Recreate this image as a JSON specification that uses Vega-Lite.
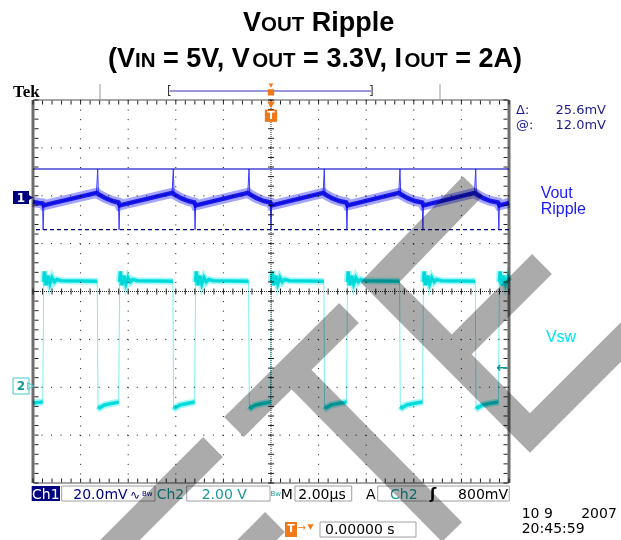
{
"$schema": "https://vega.github.io/schema/vega-lite/v6.json",
"width": 476, "height": 383, "autosize": "none",
"padding": {"left": 33, "top": 100, "right": 112, "bottom": 57},
"background": "white",
"config": {"view": {"stroke": null}, "axis": {"disable": true}},
"data": {"values": [{}]},
"datasets": {
"wm": [{"w":1,"o":1,"t":8.487,"v":2.204},{"w":1,"o":2,"t":4.58,"v":0.198},{"w":1,"o":3,"t":10.882,"v":-2.956},{"w":1,"o":4,"t":16.345,"v":-0.24},
{"w":2,"o":1,"t":11.387,"v":0.574},{"w":2,"o":2,"t":7.605,"v":-1.305},
{"w":3,"o":1,"t":3.277,"v":-0.449},{"w":3,"o":2,"t":-1.555,"v":-2.83},
{"w":4,"o":1,"t":0.882,"v":-1.64},{"w":4,"o":2,"t":7.605,"v":-5.023},
{"w":5,"o":1,"t":-2.437,"v":-3.248},{"w":5,"o":2,"t":-6.975,"v":-5.504},
{"w":6,"o":1,"t":0.168,"v":-4.815},{"w":6,"o":2,"t":-1.303,"v":-5.546}],
"gx": [{"t":-8},{"t":-6},{"t":-4},{"t":-2},{"t":2},{"t":4},{"t":6},{"t":8}],
"gy": [{"v":-3},{"v":-2},{"v":-1},{"v":1},{"v":2},{"v":3}],
"mx": [{"t":-10},{"t":-9.6},{"t":-9.2},{"t":-8.8},{"t":-8.4},{"t":-8},{"t":-7.6},{"t":-7.2},{"t":-6.8},{"t":-6.4},{"t":-6},{"t":-5.6},{"t":-5.2},{"t":-4.8},{"t":-4.4},{"t":-4},{"t":-3.6},{"t":-3.2},{"t":-2.8},{"t":-2.4},{"t":-2},{"t":-1.6},{"t":-1.2},{"t":-0.8},{"t":-0.4},{"t":0},{"t":0.4},{"t":0.8},{"t":1.2},{"t":1.6},{"t":2},{"t":2.4},{"t":2.8},{"t":3.2},{"t":3.6},{"t":4},{"t":4.4},{"t":4.8},{"t":5.2},{"t":5.6},{"t":6},{"t":6.4},{"t":6.8},{"t":7.2},{"t":7.6},{"t":8},{"t":8.4},{"t":8.8},{"t":9.2},{"t":9.6},{"t":10}],
"my": [{"v":-4},{"v":-3.8},{"v":-3.6},{"v":-3.4},{"v":-3.2},{"v":-3},{"v":-2.8},{"v":-2.6},{"v":-2.4},{"v":-2.2},{"v":-2},{"v":-1.8},{"v":-1.6},{"v":-1.4},{"v":-1.2},{"v":-1},{"v":-0.8},{"v":-0.6},{"v":-0.4},{"v":-0.2},{"v":0},{"v":0.2},{"v":0.4},{"v":0.6},{"v":0.8},{"v":1},{"v":1.2},{"v":1.4},{"v":1.6},{"v":1.8},{"v":2},{"v":2.2},{"v":2.4},{"v":2.6},{"v":2.8},{"v":3},{"v":3.2},{"v":3.4},{"v":3.6},{"v":3.8},{"v":4}],
"ch1": [{"t":-10,"v":1.87,"k":"b"},{"t":-9.75,"v":1.85,"k":"b"},{"t":-9.6,"v":1.84,"k":"b"},{"t":-9.573,"v":1.29,"k":"s"},{"t":-9.545,"v":1.8,"k":"b"},{"t":-9.3,"v":1.83,"k":"b"},{"t":-7.332,"v":2.06,"k":"b"},{"t":-7.282,"v":2.56,"k":"s"},{"t":-7.25,"v":2.03,"k":"b"},{"t":-6.95,"v":1.95,"k":"b"},{"t":-6.65,"v":1.89,"k":"b"},{"t":-6.41,"v":1.86,"k":"b"},{"t":-6.382,"v":1.29,"k":"s"},{"t":-6.355,"v":1.8,"k":"b"},{"t":-6.1,"v":1.83,"k":"b"},{"t":-4.155,"v":2.06,"k":"b"},{"t":-4.105,"v":2.56,"k":"s"},{"t":-4.07,"v":2.03,"k":"b"},{"t":-3.78,"v":1.95,"k":"b"},{"t":-3.47,"v":1.89,"k":"b"},{"t":-3.22,"v":1.86,"k":"b"},{"t":-3.191,"v":1.29,"k":"s"},{"t":-3.165,"v":1.8,"k":"b"},{"t":-2.9,"v":1.83,"k":"b"},{"t":-0.974,"v":2.06,"k":"b"},{"t":-0.924,"v":2.56,"k":"s"},{"t":-0.89,"v":2.03,"k":"b"},{"t":-0.6,"v":1.95,"k":"b"},{"t":-0.3,"v":1.89,"k":"b"},{"t":-0.03,"v":1.86,"k":"b"},{"t":0,"v":1.29,"k":"s"},{"t":0.027,"v":1.8,"k":"b"},{"t":0.29,"v":1.83,"k":"b"},{"t":2.189,"v":2.06,"k":"b"},{"t":2.239,"v":2.56,"k":"s"},{"t":2.27,"v":2.03,"k":"b"},{"t":2.56,"v":1.95,"k":"b"},{"t":2.87,"v":1.89,"k":"b"},{"t":3.16,"v":1.86,"k":"b"},{"t":3.191,"v":1.29,"k":"s"},{"t":3.218,"v":1.8,"k":"b"},{"t":3.48,"v":1.83,"k":"b"},{"t":5.37,"v":2.06,"k":"b"},{"t":5.42,"v":2.56,"k":"s"},{"t":5.45,"v":2.03,"k":"b"},{"t":5.74,"v":1.95,"k":"b"},{"t":6.05,"v":1.89,"k":"b"},{"t":6.35,"v":1.86,"k":"b"},{"t":6.382,"v":1.29,"k":"s"},{"t":6.41,"v":1.8,"k":"b"},{"t":6.67,"v":1.83,"k":"b"},{"t":8.551,"v":2.06,"k":"b"},{"t":8.601,"v":2.56,"k":"s"},{"t":8.63,"v":2.03,"k":"b"},{"t":8.92,"v":1.95,"k":"b"},{"t":9.23,"v":1.89,"k":"b"},{"t":9.54,"v":1.86,"k":"b"},{"t":9.573,"v":1.29,"k":"s"},{"t":9.6,"v":1.8,"k":"b"},{"t":9.85,"v":1.83,"k":"b"},{"t":10,"v":1.85,"k":"b"}],
"ch2": [{"t":-10,"v":-2.33,"s":"L0"},{"t":-9.59,"v":-2.31,"s":"L0"},
{"t":-9.55,"v":0.2,"s":"H0"},{"t":-9.52,"v":0.42,"s":"H0"},{"t":-9.45,"v":0.13,"s":"H0"},{"t":-9.37,"v":0.33,"s":"H0"},{"t":-9.29,"v":0.16,"s":"H0"},{"t":-9.2,"v":0.29,"s":"H0"},{"t":-9.1,"v":0.2,"s":"H0"},{"t":-9.0,"v":0.25,"s":"H0"},{"t":-8.8,"v":0.225,"s":"H0"},{"t":-7.3,"v":0.215,"s":"H0"},
{"t":-7.27,"v":-2.4,"s":"L1"},{"t":-7.2,"v":-2.43,"s":"L1"},{"t":-7.0,"v":-2.37,"s":"L1"},{"t":-6.7,"v":-2.34,"s":"L1"},{"t":-6.4,"v":-2.31,"s":"L1"},
{"t":-6.359,"v":0.2,"s":"H1"},{"t":-6.329,"v":0.42,"s":"H1"},{"t":-6.259,"v":0.13,"s":"H1"},{"t":-6.179,"v":0.33,"s":"H1"},{"t":-6.099,"v":0.16,"s":"H1"},{"t":-6.009,"v":0.29,"s":"H1"},{"t":-5.909,"v":0.2,"s":"H1"},{"t":-5.809,"v":0.25,"s":"H1"},{"t":-5.609,"v":0.225,"s":"H1"},{"t":-4.123,"v":0.215,"s":"H1"},
{"t":-4.093,"v":-2.4,"s":"L2"},{"t":-4.023,"v":-2.43,"s":"L2"},{"t":-3.825,"v":-2.37,"s":"L2"},{"t":-3.525,"v":-2.34,"s":"L2"},{"t":-3.209,"v":-2.31,"s":"L2"},
{"t":-3.168,"v":0.2,"s":"H2"},{"t":-3.138,"v":0.42,"s":"H2"},{"t":-3.068,"v":0.13,"s":"H2"},{"t":-2.988,"v":0.33,"s":"H2"},{"t":-2.908,"v":0.16,"s":"H2"},{"t":-2.818,"v":0.29,"s":"H2"},{"t":-2.718,"v":0.2,"s":"H2"},{"t":-2.618,"v":0.25,"s":"H2"},{"t":-2.418,"v":0.225,"s":"H2"},{"t":-0.942,"v":0.215,"s":"H2"},
{"t":-0.912,"v":-2.4,"s":"L3"},{"t":-0.842,"v":-2.43,"s":"L3"},{"t":-0.644,"v":-2.37,"s":"L3"},{"t":-0.344,"v":-2.34,"s":"L3"},{"t":-0.018,"v":-2.31,"s":"L3"},
{"t":0.023,"v":0.2,"s":"H3"},{"t":0.053,"v":0.42,"s":"H3"},{"t":0.123,"v":0.13,"s":"H3"},{"t":0.203,"v":0.33,"s":"H3"},{"t":0.283,"v":0.16,"s":"H3"},{"t":0.373,"v":0.29,"s":"H3"},{"t":0.473,"v":0.2,"s":"H3"},{"t":0.573,"v":0.25,"s":"H3"},{"t":0.773,"v":0.225,"s":"H3"},{"t":2.221,"v":0.215,"s":"H3"},
{"t":2.251,"v":-2.4,"s":"L4"},{"t":2.321,"v":-2.43,"s":"L4"},{"t":2.519,"v":-2.37,"s":"L4"},{"t":2.819,"v":-2.34,"s":"L4"},{"t":3.173,"v":-2.31,"s":"L4"},
{"t":3.214,"v":0.2,"s":"H4"},{"t":3.244,"v":0.42,"s":"H4"},{"t":3.314,"v":0.13,"s":"H4"},{"t":3.394,"v":0.33,"s":"H4"},{"t":3.474,"v":0.16,"s":"H4"},{"t":3.564,"v":0.29,"s":"H4"},{"t":3.664,"v":0.2,"s":"H4"},{"t":3.764,"v":0.25,"s":"H4"},{"t":3.964,"v":0.225,"s":"H4"},{"t":5.402,"v":0.215,"s":"H4"},
{"t":5.432,"v":-2.4,"s":"L5"},{"t":5.502,"v":-2.43,"s":"L5"},{"t":5.7,"v":-2.37,"s":"L5"},{"t":6.0,"v":-2.34,"s":"L5"},{"t":6.364,"v":-2.31,"s":"L5"},
{"t":6.405,"v":0.2,"s":"H5"},{"t":6.435,"v":0.42,"s":"H5"},{"t":6.505,"v":0.13,"s":"H5"},{"t":6.585,"v":0.33,"s":"H5"},{"t":6.665,"v":0.16,"s":"H5"},{"t":6.755,"v":0.29,"s":"H5"},{"t":6.855,"v":0.2,"s":"H5"},{"t":6.955,"v":0.25,"s":"H5"},{"t":7.155,"v":0.225,"s":"H5"},{"t":8.583,"v":0.215,"s":"H5"},
{"t":8.613,"v":-2.4,"s":"L6"},{"t":8.683,"v":-2.43,"s":"L6"},{"t":8.881,"v":-2.37,"s":"L6"},{"t":9.181,"v":-2.34,"s":"L6"},{"t":9.555,"v":-2.31,"s":"L6"},
{"t":9.596,"v":0.2,"s":"H6"},{"t":9.626,"v":0.42,"s":"H6"},{"t":9.696,"v":0.13,"s":"H6"},{"t":9.776,"v":0.33,"s":"H6"},{"t":9.856,"v":0.16,"s":"H6"},{"t":9.946,"v":0.29,"s":"H6"},{"t":10,"v":0.22,"s":"H6"}]
},
"layer": [
{"data": {"name": "wm"}, "mark": {"type": "line", "color": "#ababab", "strokeWidth": 28, "strokeCap": "butt", "strokeJoin": "miter", "clip": false},
 "encoding": {"x": {"field": "t", "type": "quantitative", "scale": {"domain": [-10, 10], "nice": false, "zero": false}, "axis": null},
  "y": {"field": "v", "type": "quantitative", "scale": {"domain": [-4, 4], "nice": false, "zero": false}, "axis": null},
  "detail": {"field": "w"}, "order": {"field": "o"}}},
{"data": {"name": "gx"}, "mark": {"type": "rule", "color": "#111", "strokeWidth": 1, "strokeDash": [1, 8.575], "blend": "multiply"}, "encoding": {"x": {"field": "t", "type": "quantitative"}}},
{"data": {"name": "gy"}, "mark": {"type": "rule", "color": "#111", "strokeWidth": 1, "strokeDash": [1, 8.52], "blend": "multiply"}, "encoding": {"y": {"field": "v", "type": "quantitative"}}},
{"mark": {"type": "rule", "color": "#333", "strokeWidth": 1, "strokeDash": [1, 1], "blend": "multiply"}, "encoding": {"x": {"datum": 0}}},
{"mark": {"type": "rule", "color": "#333", "strokeWidth": 1, "strokeDash": [1, 1], "blend": "multiply"}, "encoding": {"y": {"datum": 0}}},
{"data": {"name": "mx"}, "mark": {"type": "tick", "orient": "vertical", "size": 6, "thickness": 1, "color": "#222", "opacity": 1, "blend": "multiply"}, "encoding": {"x": {"field": "t", "type": "quantitative"}, "y": {"datum": 0}}},
{"data": {"name": "my"}, "mark": {"type": "tick", "orient": "horizontal", "size": 6, "thickness": 1, "color": "#222", "opacity": 1, "blend": "multiply"}, "encoding": {"y": {"field": "v", "type": "quantitative"}, "x": {"datum": 0}}},
{"data": {"name": "mx"}, "mark": {"type": "tick", "orient": "vertical", "size": 4, "thickness": 1, "color": "#222", "opacity": 1, "blend": "multiply"}, "encoding": {"x": {"field": "t", "type": "quantitative"}, "y": {"datum": 3.95}}},
{"data": {"name": "mx"}, "mark": {"type": "tick", "orient": "vertical", "size": 4, "thickness": 1, "color": "#222", "opacity": 1, "blend": "multiply"}, "encoding": {"x": {"field": "t", "type": "quantitative"}, "y": {"datum": -3.95}}},
{"data": {"name": "my"}, "mark": {"type": "tick", "orient": "horizontal", "size": 4, "thickness": 1, "color": "#222", "opacity": 1, "blend": "multiply"}, "encoding": {"y": {"field": "v", "type": "quantitative"}, "x": {"datum": -9.853}}},
{"data": {"name": "my"}, "mark": {"type": "tick", "orient": "horizontal", "size": 4, "thickness": 1, "color": "#222", "opacity": 1, "blend": "multiply"}, "encoding": {"y": {"field": "v", "type": "quantitative"}, "x": {"datum": 9.853}}},
{"mark": {"type": "rule", "color": "#6e6e6e", "strokeWidth": 3, "blend": "multiply"}, "encoding": {"x": {"datum": -10}}},
{"mark": {"type": "rule", "color": "#6e6e6e", "strokeWidth": 3, "blend": "multiply"}, "encoding": {"x": {"datum": 10}}},
{"mark": {"type": "rule", "color": "#888", "strokeWidth": 1.5, "blend": "multiply"}, "encoding": {"y": {"datum": 4}}},
{"mark": {"type": "rule", "color": "#888", "strokeWidth": 1.5, "blend": "multiply"}, "encoding": {"y": {"datum": -4}}},
{"mark": {"type": "rule", "color": "#4646d2", "strokeWidth": 1.5, "blend": "multiply"}, "encoding": {"y": {"datum": 2.559}}},
{"mark": {"type": "rule", "color": "#000080", "strokeWidth": 1.2, "strokeDash": [4, 3], "blend": "multiply"}, "encoding": {"y": {"datum": 1.291}}},
{"data": {"name": "ch2"}, "mark": {"type": "line", "color": "#a6f7f7", "strokeWidth": 7, "blend": "multiply"}, "encoding": {"x": {"field": "t", "type": "quantitative"}, "y": {"field": "v", "type": "quantitative"}, "detail": {"field": "s"}}},
{"data": {"name": "ch2"}, "mark": {"type": "line", "color": "#00e8e8", "strokeWidth": 3.5, "blend": "multiply"}, "encoding": {"x": {"field": "t", "type": "quantitative"}, "y": {"field": "v", "type": "quantitative"}, "detail": {"field": "s"}}},
{"data": {"name": "ch2"}, "mark": {"type": "line", "color": "#7aefef", "strokeWidth": 1, "blend": "multiply"}, "encoding": {"x": {"field": "t", "type": "quantitative"}, "y": {"field": "v", "type": "quantitative"}}},
{"data": {"name": "ch1"}, "transform": [{"filter": "datum.k == 'b'"}], "mark": {"type": "line", "color": "#a4a4ff", "strokeWidth": 10, "blend": "multiply"}, "encoding": {"x": {"field": "t", "type": "quantitative"}, "y": {"field": "v", "type": "quantitative"}}},
{"data": {"name": "ch1"}, "transform": [{"filter": "datum.k == 'b'"}], "mark": {"type": "line", "color": "#2828e6", "strokeWidth": 4.5, "blend": "multiply"}, "encoding": {"x": {"field": "t", "type": "quantitative"}, "y": {"field": "v", "type": "quantitative"}}},
{"data": {"name": "ch1"}, "mark": {"type": "line", "color": "#3a3aff", "strokeWidth": 1, "blend": "multiply"}, "encoding": {"x": {"field": "t", "type": "quantitative"}, "y": {"field": "v", "type": "quantitative"}}},

{"mark": {"type": "rule", "color": "#999", "strokeWidth": 1, "clip": false}, "encoding": {"x": {"datum": -7.185}, "y": {"datum": 4.334}, "y2": {"datum": 4.0}}},
{"mark": {"type": "rule", "color": "#999", "strokeWidth": 1, "clip": false}, "encoding": {"x": {"datum": 7.101}, "y": {"datum": 4.334}, "y2": {"datum": 4.0}}},
{"mark": {"type": "rule", "color": "#7474cc", "strokeWidth": 1.5, "clip": false}, "encoding": {"x": {"datum": -4.25}, "x2": {"datum": 4.2}, "y": {"datum": 4.188}}},
{"mark": {"type": "text", "text": "[", "font": "DejaVu Sans", "fontSize": 12, "align": "center", "baseline": "middle", "color": "#333", "clip": false}, "encoding": {"x": {"datum": -4.27}, "y": {"datum": 4.188}}},
{"mark": {"type": "text", "text": "]", "font": "DejaVu Sans", "fontSize": 12, "align": "center", "baseline": "middle", "color": "#333", "clip": false}, "encoding": {"x": {"datum": 4.22}, "y": {"datum": 4.188}}},
{"mark": {"type": "point", "shape": "triangle-down", "filled": true, "size": 22, "color": "#f07818", "opacity": 1, "clip": false}, "encoding": {"x": {"datum": 0}, "y": {"datum": 4.3}}},
{"mark": {"type": "point", "shape": "square", "filled": true, "size": 40, "color": "#f07818", "opacity": 1, "clip": false}, "encoding": {"x": {"datum": 0}, "y": {"datum": 4.16}}},
{"mark": {"type": "point", "shape": "triangle-down", "filled": true, "size": 60, "color": "#f07818", "opacity": 1, "clip": false}, "encoding": {"x": {"datum": 0}, "y": {"datum": 3.9}}},
{"mark": {"type": "point", "shape": "square", "filled": true, "size": 150, "color": "#f07818", "opacity": 1, "clip": false}, "encoding": {"x": {"datum": 0}, "y": {"datum": 3.67}}},
{"mark": {"type": "text", "text": "T", "font": "DejaVu Sans", "fontSize": 11, "fontWeight": "bold", "align": "center", "baseline": "middle", "color": "white", "clip": false}, "encoding": {"x": {"datum": 0}, "y": {"datum": 3.67}}},

{"mark": {"type": "rect", "color": "#000080", "clip": false}, "encoding": {"x": {"datum": -10.84}, "x2": {"datum": -10.168}, "y": {"datum": 2.099}, "y2": {"datum": 1.828}}},
{"mark": {"type": "point", "shape": "triangle-right", "filled": true, "size": 45, "color": "#000080", "opacity": 1, "clip": false}, "encoding": {"x": {"datum": -10.11}, "y": {"datum": 1.963}}},
{"mark": {"type": "text", "text": "1", "font": "DejaVu Sans", "fontSize": 12, "fontWeight": "bold", "align": "center", "baseline": "middle", "color": "white", "clip": false}, "encoding": {"x": {"datum": -10.504}, "y": {"datum": 1.963}}},
{"mark": {"type": "rect", "filled": false, "stroke": "#40c8c8", "strokeWidth": 1, "clip": false}, "encoding": {"x": {"datum": -10.84}, "x2": {"datum": -10.168}, "y": {"datum": -1.807}, "y2": {"datum": -2.141}}},
{"mark": {"type": "point", "shape": "triangle-right", "filled": false, "size": 45, "stroke": "#40c8c8", "strokeWidth": 1, "opacity": 1, "clip": false}, "encoding": {"x": {"datum": -10.1}, "y": {"datum": -1.974}}},
{"mark": {"type": "text", "text": "2", "font": "DejaVu Sans", "fontSize": 12, "fontWeight": "bold", "align": "center", "baseline": "middle", "color": "#109898", "clip": false}, "encoding": {"x": {"datum": -10.504}, "y": {"datum": -1.974}}},
{"mark": {"type": "text", "text": "←", "font": "DejaVu Sans", "fontSize": 14, "fontWeight": "bold", "align": "center", "baseline": "middle", "color": "#109898", "clip": false}, "encoding": {"x": {"datum": 9.706}, "y": {"datum": -1.592}}},

{"mark": {"type": "text", "text": "Tek", "font": "Liberation Serif", "fontSize": 17, "fontWeight": "bold", "align": "left", "baseline": "alphabetic", "color": "#000", "clip": false}, "encoding": {"x": {"datum": -10.84}, "y": {"datum": 4.063}}},
{"mark": {"type": "text", "text": "V", "font": "Liberation Sans", "fontSize": 27, "fontWeight": "bold", "align": "left", "baseline": "alphabetic", "color": "#000", "clip": false}, "encoding": {"x": {"datum": -1.176}, "y": {"datum": 5.447}}},
{"mark": {"type": "text", "text": "OUT", "font": "Liberation Sans", "fontSize": 20.5, "fontWeight": "bold", "align": "left", "baseline": "alphabetic", "color": "#000", "clip": false}, "encoding": {"x": {"datum": -0.42}, "y": {"datum": 5.447}}},
{"mark": {"type": "text", "text": "Ripple", "font": "Liberation Sans", "fontSize": 27, "fontWeight": "bold", "align": "left", "baseline": "alphabetic", "color": "#000", "clip": false}, "encoding": {"x": {"datum": 1.714}, "y": {"datum": 5.447}}},
{"mark": {"type": "text", "text": "(V", "font": "Liberation Sans", "fontSize": 27, "fontWeight": "bold", "align": "left", "baseline": "alphabetic", "color": "#000", "clip": false}, "encoding": {"x": {"datum": -6.849}, "y": {"datum": 4.696}}},
{"mark": {"type": "text", "text": "IN", "font": "Liberation Sans", "fontSize": 20.5, "fontWeight": "bold", "align": "left", "baseline": "alphabetic", "color": "#000", "clip": false}, "encoding": {"x": {"datum": -5.714}, "y": {"datum": 4.696}}},
{"mark": {"type": "text", "text": "= 5V, V", "font": "Liberation Sans", "fontSize": 27, "fontWeight": "bold", "align": "left", "baseline": "alphabetic", "color": "#000", "clip": false}, "encoding": {"x": {"datum": -4.538}, "y": {"datum": 4.696}}},
{"mark": {"type": "text", "text": "OUT", "font": "Liberation Sans", "fontSize": 20.5, "fontWeight": "bold", "align": "left", "baseline": "alphabetic", "color": "#000", "clip": false}, "encoding": {"x": {"datum": -0.786}, "y": {"datum": 4.696}}},
{"mark": {"type": "text", "text": "= 3.3V, I", "font": "Liberation Sans", "fontSize": 27, "fontWeight": "bold", "align": "left", "baseline": "alphabetic", "color": "#000", "clip": false}, "encoding": {"x": {"datum": 1.349}, "y": {"datum": 4.696}}},
{"mark": {"type": "text", "text": "OUT", "font": "Liberation Sans", "fontSize": 20.5, "fontWeight": "bold", "align": "left", "baseline": "alphabetic", "color": "#000", "clip": false}, "encoding": {"x": {"datum": 5.605}, "y": {"datum": 4.696}}},
{"mark": {"type": "text", "text": "= 2A)", "font": "Liberation Sans", "fontSize": 27, "fontWeight": "bold", "align": "left", "baseline": "alphabetic", "color": "#000", "clip": false}, "encoding": {"x": {"datum": 7.739}, "y": {"datum": 4.696}}},

{"mark": {"type": "text", "text": "Δ:", "font": "DejaVu Sans", "fontSize": 13, "align": "left", "baseline": "alphabetic", "color": "#1c1c8c", "clip": false}, "encoding": {"x": {"datum": 10.294}, "y": {"datum": 3.71}}},
{"mark": {"type": "text", "text": "25.6mV", "font": "DejaVu Sans", "fontSize": 13, "align": "right", "baseline": "alphabetic", "color": "#1c1c8c", "clip": false}, "encoding": {"x": {"datum": 14.076}, "y": {"datum": 3.71}}},
{"mark": {"type": "text", "text": "@:", "font": "DejaVu Sans", "fontSize": 13, "align": "left", "baseline": "alphabetic", "color": "#1c1c8c", "clip": false}, "encoding": {"x": {"datum": 10.294}, "y": {"datum": 3.39}}},
{"mark": {"type": "text", "text": "12.0mV", "font": "DejaVu Sans", "fontSize": 13, "align": "right", "baseline": "alphabetic", "color": "#1c1c8c", "clip": false}, "encoding": {"x": {"datum": 14.076}, "y": {"datum": 3.39}}},
{"mark": {"type": "text", "text": "Vout", "font": "Liberation Sans", "fontSize": 16, "align": "left", "baseline": "alphabetic", "color": "#1a1aff", "clip": false}, "encoding": {"x": {"datum": 11.33}, "y": {"datum": 1.95}}},
{"mark": {"type": "text", "text": "Ripple", "font": "Liberation Sans", "fontSize": 16, "align": "left", "baseline": "alphabetic", "color": "#1a1aff", "clip": false}, "encoding": {"x": {"datum": 11.33}, "y": {"datum": 1.619}}},
{"mark": {"type": "text", "text": "Vsw", "font": "Liberation Sans", "fontSize": 16, "align": "left", "baseline": "alphabetic", "color": "#00e4f0", "clip": false}, "encoding": {"x": {"datum": 11.55}, "y": {"datum": -1.049}}},

{"mark": {"type": "rect", "color": "#000080", "clip": false}, "encoding": {"x": {"datum": -10.055}, "x2": {"datum": -8.866}, "y": {"datum": -4.063}, "y2": {"datum": -4.376}}},
{"mark": {"type": "text", "text": "Ch1", "font": "DejaVu Sans", "fontSize": 14, "align": "center", "baseline": "alphabetic", "color": "white", "clip": false}, "encoding": {"x": {"datum": -9.46}, "y": {"datum": -4.334}}},
{"mark": {"type": "rect", "filled": false, "stroke": "#a0a0a0", "strokeWidth": 1, "clip": false, "blend": "multiply"}, "encoding": {"x": {"datum": -8.794}, "x2": {"datum": -4.874}, "y": {"datum": -4.063}, "y2": {"datum": -4.376}}},
{"mark": {"type": "text", "text": "20.0mV", "font": "DejaVu Sans", "fontSize": 14, "align": "left", "baseline": "alphabetic", "color": "#000080", "clip": false, "blend": "multiply"}, "encoding": {"x": {"datum": -8.307}, "y": {"datum": -4.334}}},
{"mark": {"type": "text", "text": "∿", "font": "DejaVu Sans", "fontSize": 12, "align": "left", "baseline": "alphabetic", "color": "#000080", "clip": false, "blend": "multiply"}, "encoding": {"x": {"datum": -5.924}, "y": {"datum": -4.334}}},
{"mark": {"type": "text", "text": "Bw", "font": "DejaVu Sans", "fontSize": 7, "align": "left", "baseline": "alphabetic", "color": "#000080", "clip": false, "blend": "multiply"}, "encoding": {"x": {"datum": -5.42}, "y": {"datum": -4.27}}},
{"mark": {"type": "text", "text": "Ch2", "font": "DejaVu Sans", "fontSize": 14, "align": "left", "baseline": "alphabetic", "color": "#189898", "clip": false, "blend": "multiply"}, "encoding": {"x": {"datum": -4.803}, "y": {"datum": -4.334}}},
{"mark": {"type": "rect", "filled": false, "stroke": "#a0a0a0", "strokeWidth": 1, "clip": false, "blend": "multiply"}, "encoding": {"x": {"datum": -3.542}, "x2": {"datum": -0.042}, "y": {"datum": -4.063}, "y2": {"datum": -4.376}}},
{"mark": {"type": "text", "text": "2.00 V", "font": "DejaVu Sans", "fontSize": 14, "align": "left", "baseline": "alphabetic", "color": "#189898", "clip": false, "blend": "multiply"}, "encoding": {"x": {"datum": -2.912}, "y": {"datum": -4.334}}},
{"mark": {"type": "text", "text": "Bw", "font": "DejaVu Sans", "fontSize": 7, "align": "left", "baseline": "alphabetic", "color": "#189898", "clip": false, "blend": "multiply"}, "encoding": {"x": {"datum": -0.02}, "y": {"datum": -4.27}}},
{"mark": {"type": "text", "text": "M", "font": "DejaVu Sans", "fontSize": 14, "align": "left", "baseline": "alphabetic", "color": "#000", "clip": false, "blend": "multiply"}, "encoding": {"x": {"datum": 0.408}, "y": {"datum": -4.334}}},
{"mark": {"type": "rect", "filled": false, "stroke": "#a0a0a0", "strokeWidth": 1, "clip": false, "blend": "multiply"}, "encoding": {"x": {"datum": 1.008}, "x2": {"datum": 3.391}, "y": {"datum": -4.063}, "y2": {"datum": -4.376}}},
{"mark": {"type": "text", "text": "2.00µs", "font": "DejaVu Sans", "fontSize": 14, "align": "left", "baseline": "alphabetic", "color": "#000", "clip": false, "blend": "multiply"}, "encoding": {"x": {"datum": 1.147}, "y": {"datum": -4.334}}},
{"mark": {"type": "text", "text": "A", "font": "DejaVu Sans", "fontSize": 14, "align": "left", "baseline": "alphabetic", "color": "#000", "clip": false, "blend": "multiply"}, "encoding": {"x": {"datum": 3.992}, "y": {"datum": -4.334}}},
{"mark": {"type": "rect", "filled": false, "stroke": "#a0a0a0", "strokeWidth": 1, "clip": false, "blend": "multiply"}, "encoding": {"x": {"datum": 4.483}, "x2": {"datum": 10.013}, "y": {"datum": -4.063}, "y2": {"datum": -4.376}}},
{"mark": {"type": "text", "text": "Ch2", "font": "DejaVu Sans", "fontSize": 14, "align": "left", "baseline": "alphabetic", "color": "#189898", "clip": false, "blend": "multiply"}, "encoding": {"x": {"datum": 5.0}, "y": {"datum": -4.334}}},
{"mark": {"type": "text", "text": "ʃ", "font": "DejaVu Sans", "fontSize": 15, "fontWeight": "bold", "align": "left", "baseline": "alphabetic", "color": "#000", "clip": false, "blend": "multiply"}, "encoding": {"x": {"datum": 6.68}, "y": {"datum": -4.334}}},
{"mark": {"type": "text", "text": "800mV", "font": "DejaVu Sans", "fontSize": 14, "align": "right", "baseline": "alphabetic", "color": "#000", "clip": false, "blend": "multiply"}, "encoding": {"x": {"datum": 9.958}, "y": {"datum": -4.334}}},

{"mark": {"type": "rect", "color": "#f07818", "clip": false}, "encoding": {"x": {"datum": 0.588}, "x2": {"datum": 1.092}, "y": {"datum": -4.815}, "y2": {"datum": -5.128}}},
{"mark": {"type": "text", "text": "T", "font": "DejaVu Sans", "fontSize": 11, "fontWeight": "bold", "align": "center", "baseline": "middle", "color": "white", "clip": false}, "encoding": {"x": {"datum": 0.84}, "y": {"datum": -4.971}}},
{"mark": {"type": "text", "text": "→", "font": "DejaVu Sans", "fontSize": 10, "align": "center", "baseline": "middle", "color": "#f07818", "clip": false}, "encoding": {"x": {"datum": 1.29}, "y": {"datum": -4.95}}},
{"mark": {"type": "point", "shape": "triangle-down", "filled": true, "size": 40, "color": "#f07818", "opacity": 1, "clip": false}, "encoding": {"x": {"datum": 1.66}, "y": {"datum": -4.92}}},
{"mark": {"type": "rect", "filled": false, "stroke": "#a0a0a0", "strokeWidth": 1, "clip": false, "blend": "multiply"}, "encoding": {"x": {"datum": 2.059}, "x2": {"datum": 6.092}, "y": {"datum": -4.815}, "y2": {"datum": -5.128}}},
{"mark": {"type": "text", "text": "0.00000 s", "font": "DejaVu Sans", "fontSize": 14, "align": "left", "baseline": "alphabetic", "color": "#000", "clip": false, "blend": "multiply"}, "encoding": {"x": {"datum": 2.269}, "y": {"datum": -5.065}}},
{"mark": {"type": "text", "text": "10 9", "font": "DejaVu Sans", "fontSize": 14, "align": "left", "baseline": "alphabetic", "color": "#000", "clip": false}, "encoding": {"x": {"datum": 10.534}, "y": {"datum": -4.731}}},
{"mark": {"type": "text", "text": "2007", "font": "DejaVu Sans", "fontSize": 14, "align": "right", "baseline": "alphabetic", "color": "#000", "clip": false}, "encoding": {"x": {"datum": 14.53}, "y": {"datum": -4.731}}},
{"mark": {"type": "text", "text": "20:45:59", "font": "DejaVu Sans", "fontSize": 14, "align": "left", "baseline": "alphabetic", "color": "#000", "clip": false}, "encoding": {"x": {"datum": 10.534}, "y": {"datum": -5.044}}}
]
}
